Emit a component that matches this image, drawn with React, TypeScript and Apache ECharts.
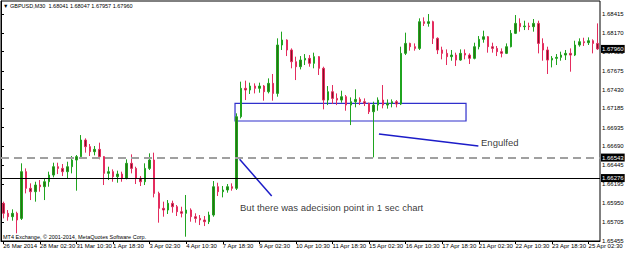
import React, { useEffect, useRef } from "react";
import * as echarts from "echarts";

const xTickLabels = ["26 Mar 2014", "28 Mar 02:30", "31 Mar 10:30", "1 Apr 18:30", "3 Apr 02:30", "4 Apr 10:30", "7 Apr 18:30", "9 Apr 02:30", "10 Apr 10:30", "11 Apr 18:30", "15 Apr 02:30", "16 Apr 10:30", "17 Apr 18:30", "21 Apr 02:30", "22 Apr 10:30", "23 Apr 18:30", "25 Apr 02:30"];
const yTickValues = [1.65455, 1.65705, 1.6595, 1.66195, 1.66445, 1.6669, 1.66935, 1.67185, 1.6743, 1.67675, 1.67925, 1.6817, 1.68415];

const opens = [1.65946, 1.65816, 1.65772, 1.65816, 1.6575, 1.66359, 1.66142, 1.66098, 1.66185, 1.66163, 1.66228, 1.66315, 1.66424, 1.66402, 1.66359, 1.66424, 1.66511, 1.66555, 1.66772, 1.66685, 1.6662, 1.6665, 1.66555, 1.66337, 1.66359, 1.66294, 1.66328, 1.66272, 1.66468, 1.66402, 1.66272, 1.66228, 1.66402, 1.66511, 1.66076, 1.65881, 1.65859, 1.65946, 1.65902, 1.65837, 1.65816, 1.65859, 1.65772, 1.6575, 1.65729, 1.65707, 1.65794, 1.66163, 1.66098, 1.6612, 1.66163, 1.66142, 1.67076, 1.67446, 1.67424, 1.67476, 1.67446, 1.67476, 1.67402, 1.67511, 1.6738, 1.68011, 1.68076, 1.67946, 1.67793, 1.67728, 1.67815, 1.67837, 1.67772, 1.67859, 1.67707, 1.67293, 1.67402, 1.67315, 1.67293, 1.67337, 1.67228, 1.67272, 1.67302, 1.67272, 1.6725, 1.67141, 1.67228, 1.67293, 1.67228, 1.6725, 1.67272, 1.67241, 1.67902, 1.68032, 1.67989, 1.67967, 1.68315, 1.68293, 1.68315, 1.68098, 1.67946, 1.67902, 1.67859, 1.6788, 1.67815, 1.67902, 1.6788, 1.67837, 1.67989, 1.68085, 1.68119, 1.67989, 1.67967, 1.67924, 1.67902, 1.67989, 1.68163, 1.68293, 1.6825, 1.68259, 1.6825, 1.68293, 1.68032, 1.67946, 1.67815, 1.67837, 1.6785, 1.6788, 1.67902, 1.6788, 1.68011, 1.68054, 1.68041, 1.68067, 1.68032];
const closes = [1.65816, 1.65772, 1.65816, 1.65729, 1.66359, 1.66142, 1.66098, 1.66185, 1.66163, 1.66228, 1.66315, 1.66424, 1.66402, 1.66359, 1.66424, 1.66511, 1.66555, 1.66772, 1.66685, 1.6662, 1.6665, 1.66555, 1.66337, 1.66359, 1.66294, 1.66328, 1.66272, 1.66468, 1.66402, 1.66272, 1.66228, 1.66402, 1.66511, 1.66076, 1.65881, 1.65859, 1.65946, 1.65902, 1.65837, 1.65816, 1.65859, 1.65772, 1.6575, 1.65729, 1.65707, 1.65794, 1.66163, 1.66098, 1.6612, 1.66163, 1.66142, 1.67076, 1.67446, 1.67424, 1.67476, 1.67446, 1.67476, 1.67402, 1.67511, 1.6738, 1.68011, 1.68076, 1.67946, 1.67793, 1.67728, 1.67815, 1.67837, 1.67772, 1.67859, 1.67707, 1.67293, 1.67402, 1.67315, 1.67293, 1.67337, 1.67228, 1.67272, 1.67302, 1.67272, 1.6725, 1.67141, 1.67228, 1.67293, 1.67228, 1.6725, 1.67272, 1.67241, 1.67902, 1.68032, 1.67989, 1.67967, 1.68315, 1.68293, 1.68315, 1.68098, 1.67946, 1.67902, 1.67859, 1.6788, 1.67815, 1.67902, 1.6788, 1.67837, 1.67989, 1.68085, 1.68119, 1.67989, 1.67967, 1.67924, 1.67902, 1.67989, 1.68163, 1.68293, 1.6825, 1.68259, 1.6825, 1.68293, 1.68032, 1.67946, 1.67815, 1.67837, 1.6785, 1.6788, 1.67902, 1.6788, 1.68011, 1.68054, 1.68041, 1.68067, 1.68032, 1.6796];
const lows = [1.6575, 1.6572, 1.6572, 1.65555, 1.65729, 1.66076, 1.65989, 1.65968, 1.66098, 1.65989, 1.66163, 1.66285, 1.66328, 1.66302, 1.66272, 1.66337, 1.66111, 1.66533, 1.66607, 1.66563, 1.66572, 1.6652, 1.66185, 1.6625, 1.66228, 1.66215, 1.66228, 1.66259, 1.66337, 1.66198, 1.66172, 1.66185, 1.66381, 1.66024, 1.65694, 1.65772, 1.65807, 1.65824, 1.65781, 1.65763, 1.65511, 1.65707, 1.65694, 1.65663, 1.6565, 1.65676, 1.65772, 1.66042, 1.66024, 1.66085, 1.66111, 1.6612, 1.67054, 1.67293, 1.67372, 1.6738, 1.67389, 1.67285, 1.6738, 1.67285, 1.67337, 1.67946, 1.67867, 1.67707, 1.67554, 1.67693, 1.6775, 1.67728, 1.67707, 1.6762, 1.67172, 1.67228, 1.67241, 1.67228, 1.67259, 1.67154, 1.66967, 1.67198, 1.67228, 1.67215, 1.67111, 1.66546, 1.67154, 1.67185, 1.67181, 1.67198, 1.67198, 1.67228, 1.6788, 1.67937, 1.67937, 1.67946, 1.68259, 1.6825, 1.68024, 1.67893, 1.67824, 1.6775, 1.67806, 1.67737, 1.67806, 1.67824, 1.67763, 1.67824, 1.67954, 1.68041, 1.67911, 1.67911, 1.67867, 1.6785, 1.67893, 1.6798, 1.68154, 1.68185, 1.68206, 1.68206, 1.68185, 1.67902, 1.67806, 1.67633, 1.67719, 1.6775, 1.67806, 1.67815, 1.67663, 1.67867, 1.67989, 1.67998, 1.68011, 1.67902, 1.67946];
const highs = [1.65968, 1.65859, 1.65868, 1.65837, 1.66468, 1.66402, 1.66207, 1.66228, 1.6625, 1.66272, 1.66359, 1.66476, 1.66476, 1.66459, 1.66489, 1.66563, 1.66576, 1.66837, 1.66794, 1.6672, 1.66694, 1.66737, 1.66563, 1.66424, 1.66389, 1.66372, 1.66359, 1.6652, 1.66585, 1.66424, 1.66302, 1.66468, 1.66598, 1.66607, 1.66098, 1.65968, 1.65989, 1.65981, 1.65924, 1.65902, 1.66055, 1.65881, 1.65816, 1.65794, 1.65781, 1.65837, 1.66237, 1.66215, 1.66172, 1.66198, 1.66207, 1.6712, 1.67533, 1.67546, 1.6752, 1.67511, 1.6752, 1.67489, 1.67576, 1.67633, 1.68098, 1.68185, 1.68085, 1.67967, 1.67859, 1.67867, 1.67893, 1.6788, 1.67911, 1.67867, 1.67728, 1.67476, 1.67489, 1.6738, 1.67415, 1.67359, 1.67328, 1.67433, 1.67328, 1.67315, 1.67259, 1.67272, 1.67328, 1.67489, 1.67302, 1.67302, 1.67293, 1.67989, 1.68172, 1.68041, 1.68032, 1.68359, 1.68372, 1.68415, 1.68328, 1.68111, 1.67989, 1.67954, 1.67946, 1.67911, 1.67954, 1.67954, 1.67902, 1.68041, 1.68128, 1.68198, 1.68128, 1.68041, 1.67998, 1.67967, 1.68032, 1.68206, 1.68402, 1.68359, 1.68328, 1.68302, 1.6835, 1.68328, 1.68098, 1.67989, 1.67867, 1.67893, 1.67924, 1.67946, 1.67967, 1.68067, 1.68098, 1.68106, 1.68111, 1.68085, 1.68293];

const levelDashed = 1.66543;
const levelSolid = 1.66276;
const lastPrice = 1.6796;
const headerText = "\u25BC GBPUSD,M30  1.68041 1.68047 1.67957 1.67960";
const footerText = "MT4 Exchange, \u00A9 2001-2014, MetaQuotes Software Corp.";

// annotations in (candle-position, price) space
const boxCorners = [[51.18, 1.6725], [101.7, 1.6702]];
const arrowLines = [
  [[52.18, 1.6652], [59.2, 1.66042]],
  [[82.65, 1.6685], [104.4, 1.66694]],
];
const notes: [number, number, string][] = [
  [52.27, 1.65898, "But there was adecision point in 1 sec chart"],
  [104.98, 1.66737, "Engulfed"],
];

const FONT = "'Liberation Sans', Arial, sans-serif";

export default function App() {
  const ref = useRef<HTMLDivElement>(null);
  useEffect(() => {
    const chart = echarts.init(ref.current!, null, { renderer: "svg" });
    const categories = opens.map((_, i) => `${xTickLabels[Math.floor(i / 8)]} #${i % 8}`);
    const candles = opens.map((o, i) => [o, closes[i], lows[i], highs[i]]);
    const boxLabel = {
      show: true,
      position: "end",
      distance: 1,
      formatter: (p: any) => Number(p.value).toFixed(5),
      backgroundColor: "#000",
      color: "#fff",
      fontSize: 6,
      fontFamily: FONT,
      padding: [1, 1, 0, 1],
      lineHeight: 7,
    };
    chart.setOption({
      animation: false,
      backgroundColor: "#fff",
      grid: {
        left: 1,
        right: 25,
        top: 1,
        bottom: 12,
        show: true,
        borderColor: "#000",
        borderWidth: 1,
        backgroundColor: "#fff",
        outerBoundsMode: "none",
      },
      xAxis: [
        {
          type: "category",
          data: categories,
          boundaryGap: true,
          axisLine: { show: true, lineStyle: { color: "#000", width: 1 } },
          axisTick: {
            show: true,
            alignWithLabel: true,
            interval: (i: number) => i % 8 === 0,
            length: 3,
            lineStyle: { color: "#000" },
          },
          axisLabel: {
            interval: (i: number) => i % 8 === 0,
            formatter: (_v: string, i: number) => xTickLabels[i / 8] ?? "",
            align: "left",
            margin: 2,
            fontSize: 6,
            fontFamily: FONT,
            color: "#000",
            hideOverlap: false,
          },
          splitLine: { show: false },
        },
        { type: "value", min: 0, max: opens.length, show: false },
      ],
      yAxis: {
        type: "value",
        position: "right",
        min: 1.65455,
        max: 1.68585,
        scale: true,
        splitLine: { show: false },
        axisLine: { show: true, lineStyle: { color: "#000", width: 1 } },
        axisTick: { show: true, customValues: yTickValues, length: 3, lineStyle: { color: "#000" } },
        axisLabel: {
          customValues: yTickValues,
          formatter: (v: number) => v.toFixed(5),
          margin: 2,
          fontSize: 6,
          fontFamily: FONT,
          color: "#000",
        },
      },
      series: [
        {
          type: "candlestick",
          xAxisIndex: 0,
          yAxisIndex: 0,
          data: candles,
          barWidth: 2,
          itemStyle: {
            color: "#2f6e14",
            color0: "#7a1626",
            borderColor: "#1fa41f",
            borderColor0: "#e42c5e",
            borderWidth: 1,
          },
          markLine: {
            silent: true,
            precision: 5,
            symbol: ["none", "none"],
            z: 20,
            data: [
              { yAxis: levelDashed, lineStyle: { type: [8, 5], color: "#a0a0a0", width: 2 }, label: boxLabel },
              { yAxis: levelSolid, lineStyle: { type: "solid", color: "#000", width: 1 }, label: boxLabel },
              { yAxis: lastPrice, lineStyle: { color: "rgba(0,0,0,0)", width: 0 }, label: boxLabel },
            ],
          },
        },
        {
          type: "scatter",
          xAxisIndex: 1,
          yAxisIndex: 0,
          symbolSize: 0,
          z: 10,
          data: notes.map((n) => ({ value: [n[0], n[1]], name: n[2] })),
          label: {
            show: true,
            position: "right",
            distance: 0,
            formatter: (p: any) => p.name,
            fontSize: 9.5,
            fontFamily: FONT,
            color: "#000",
          },
          markLine: {
            silent: true,
            precision: 5,
            symbol: ["none", "none"],
            label: { show: false },
            lineStyle: { color: "#1c1cc8", width: 1.5, type: "solid" },
            data: arrowLines.map((l) => [{ coord: l[0] }, { coord: l[1] }]),
          },
          markArea: {
            silent: true,
            precision: 5,
            itemStyle: { color: "rgba(0,0,0,0)", borderColor: "#3030cc", borderWidth: 1.2 },
            data: [[{ coord: boxCorners[0] }, { coord: boxCorners[1] }]],
          },
        },
      ],
      graphic: [
        { type: "text", left: 3, top: 3, style: { text: headerText, fontSize: 5.5, fontFamily: FONT, fill: "#000" } },
        { type: "text", left: 3, top: 234, style: { text: footerText, fontSize: 5.5, fontFamily: FONT, fill: "#000" } },
      ],
    });
    return () => chart.dispose();
  }, []);
  return (
    <div
      ref={ref}
      style={{ position: "fixed", left: 0, top: 0, width: 625, height: 253, background: "#fff" }}
    />
  );
}
